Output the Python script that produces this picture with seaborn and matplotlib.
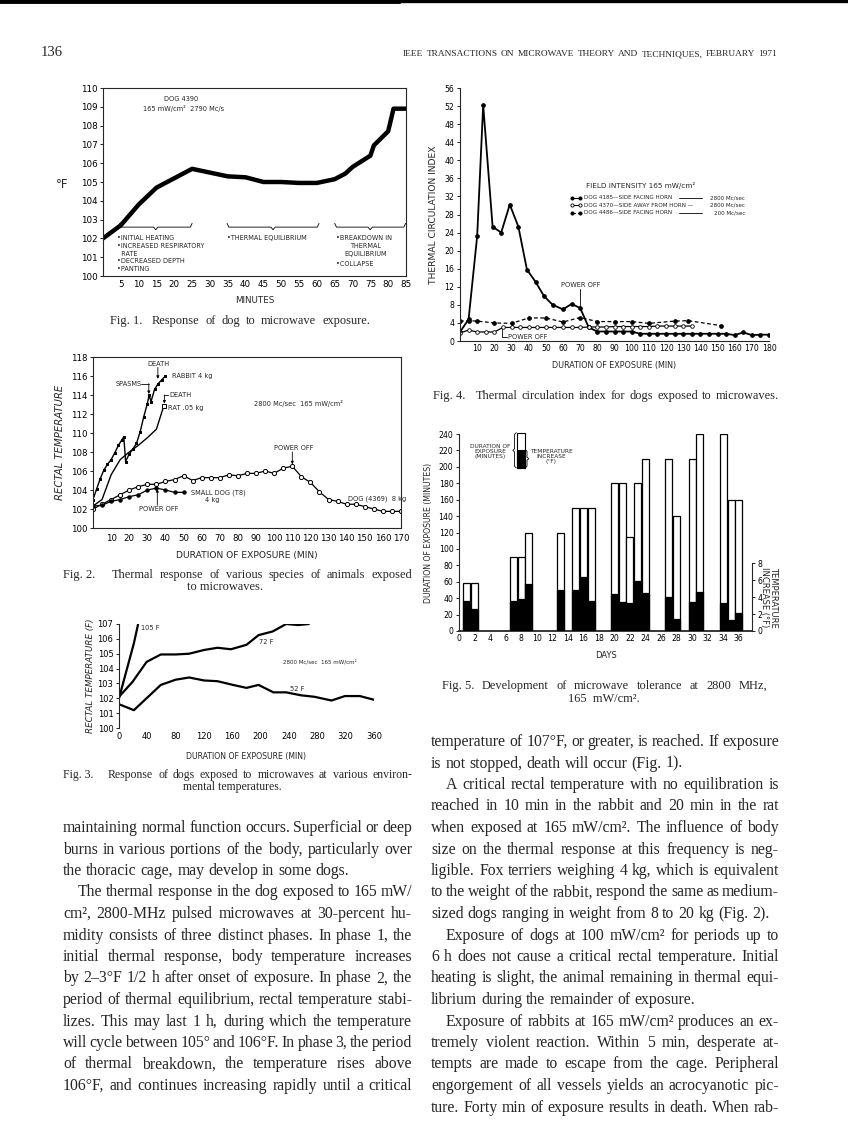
import matplotlib
matplotlib.use('Agg')
import matplotlib.pyplot as plt
from matplotlib.lines import Line2D
from matplotlib.patches import Rectangle
import seaborn as sns

# ---------------- data ----------------
# Fig. 1  dog 4390, 165 mW/cm2
f1_min = [0, 5, 10, 15, 20, 25, 30, 35, 40, 45, 50, 55, 60, 65, 68, 70, 75, 76, 80, 81.5, 85]
f1_temp = [102.0, 102.7, 103.8, 104.7, 105.2, 105.7, 105.5, 105.3, 105.25, 105.0, 105.0, 104.95,
           104.95, 105.15, 105.45, 105.8, 106.4, 106.95, 107.7, 108.9, 108.9]

# Fig. 2  species
rabbit_min = [0, 2, 4, 6, 8, 10, 12, 14, 16, 17, 18, 20, 22, 24, 26, 28, 30, 31, 32, 34, 36, 38, 40]
rabbit_temp = [103.0, 104.1, 105.2, 106.1, 106.7, 107.2, 107.9, 108.7, 109.3, 109.6, 107.0, 107.8,
               108.3, 108.9, 110.1, 111.7, 113.1, 114.0, 113.3, 114.6, 115.2, 115.6, 116.0]
rat_min = [0, 5, 10, 15, 20, 25, 30, 35, 39]
rat_temp = [102.3, 103.0, 105.6, 107.2, 108.0, 108.7, 109.5, 110.4, 112.8]
dog8_min = list(range(0, 171, 5))
dog8_temp = [102.0, 102.5, 103.0, 103.5, 104.0, 104.35, 104.6, 104.6, 104.9, 105.1, 105.5, 105.0,
             105.3, 105.3, 105.3, 105.6, 105.5, 105.75, 105.75, 106.0, 105.75, 106.3, 106.5, 105.4,
             104.8, 103.8, 103.0, 102.8, 102.5, 102.5, 102.25, 102.0, 101.75, 101.75, 101.75]
dog4_min = list(range(0, 51, 5))
dog4_temp = [102.3, 102.4, 102.8, 103.0, 103.3, 103.5, 104.0, 104.2, 104.0, 103.75, 103.75]

# Fig. 3  environmental temperatures
t105_min = [0, 21, 27]
t105_temp = [102.0, 105.7, 107.0]
t72_min = [0, 19, 39, 59, 80, 99, 120, 139, 158, 180, 197, 217, 236, 253, 268]
t72_temp = [102.1, 103.1, 104.45, 104.95, 104.95, 105.0, 105.25, 105.4, 105.3, 105.6, 106.25,
            106.5, 107.0, 106.93, 107.0]
t52_min = [0, 21, 40, 59, 80, 99, 120, 139, 161, 180, 197, 218, 236, 257, 276, 300, 319, 340, 360]
t52_temp = [101.6, 101.2, 102.05, 102.9, 103.25, 103.4, 103.2, 103.15, 102.9, 102.7, 102.9, 102.4,
            102.4, 102.2, 102.1, 101.85, 102.15, 102.15, 101.9]

# Fig. 4  thermal circulation index
d4185_min = [0, 5, 10, 13.5, 19, 24, 29, 34, 39, 44, 49, 54, 60, 65, 70, 75, 80, 85, 90, 95, 100,
             105, 110, 115, 120, 125, 130, 135, 140, 145, 150, 155, 160, 165, 170, 175, 180]
d4185_tci = [2.0, 4.8, 23.2, 52.2, 25.3, 24.0, 30.2, 25.3, 15.8, 13.1, 9.9, 8.0, 7.0, 8.2, 7.3, 3.0,
             2.1, 2.1, 2.1, 2.1, 2.1, 1.6, 1.6, 1.6, 1.6, 1.6, 1.6, 1.6, 1.6, 1.6, 1.6, 1.6, 1.3,
             1.9, 1.3, 1.4, 1.4]
d4370_min = list(range(0, 136, 5))
d4370_tci = [1.8, 2.4, 2.0, 2.0, 2.0, 3.0, 3.0, 3.0, 3.0, 3.0, 3.0, 3.0, 3.0, 3.0, 3.0, 3.1, 3.1,
             3.1, 3.2, 3.2, 3.2, 3.2, 3.2, 3.3, 3.3, 3.3, 3.3, 3.3]
d4486_min = [0, 5, 10, 20, 30, 40, 50, 60, 70, 80, 90, 100, 110, 125, 133, 152]
d4486_tci = [4.4, 4.5, 4.4, 4.0, 3.9, 5.1, 5.1, 4.2, 5.2, 4.3, 4.3, 4.3, 3.9, 4.4, 4.5, 3.4]

# Fig. 5  tolerance
days = [1, 2, 7, 8, 9, 13, 15, 16, 17, 20, 21, 22, 23, 24, 27, 28, 30, 31, 34, 35, 36]
exposure = [59, 59, 90, 90, 120, 120, 150, 150, 150, 180, 180, 115, 180, 210, 210, 140, 210, 240,
            240, 160, 160]
temp_rise = [3.55, 2.6, 3.55, 3.8, 5.5, 4.9, 4.9, 6.35, 3.6, 4.4, 3.4, 3.3, 5.9, 4.45, 4.05, 1.4,
             3.45, 4.65, 3.35, 1.3, 2.1]

# ---------------- page text ----------------
header_right = 'IEEE TRANSACTIONS ON MICROWAVE THEORY AND TECHNIQUES, FEBRUARY 1971'
left_lines = [
    'maintaining normal function occurs. Superficial or deep',
    'burns in various portions of the body, particularly over',
    'the thoracic cage, may develop in some dogs.',
    'The thermal response in the dog exposed to 165 mW/',
    'cm², 2800-MHz pulsed microwaves at 30-percent hu-',
    'midity consists of three distinct phases. In phase 1, the',
    'initial thermal response, body temperature increases',
    'by 2–3°F 1/2 h after onset of exposure. In phase 2, the',
    'period of thermal equilibrium, rectal temperature stabi-',
    'lizes. This may last 1 h, during which the temperature',
    'will cycle between 105° and 106°F. In phase 3, the period',
    'of thermal breakdown, the temperature rises above',
    '106°F, and continues increasing rapidly until a critical',
]
left_indent = {3}
left_ragged = {2}
right_lines = [
    'temperature of 107°F, or greater, is reached. If exposure',
    'is not stopped, death will occur (Fig. 1).',
    'A critical rectal temperature with no equilibration is',
    'reached in 10 min in the rabbit and 20 min in the rat',
    'when exposed at 165 mW/cm². The influence of body',
    'size on the thermal response at this frequency is neg-',
    'ligible. Fox terriers weighing 4 kg, which is equivalent',
    'to the weight of the rabbit, respond the same as medium-',
    'sized dogs ranging in weight from 8 to 20 kg (Fig. 2).',
    'Exposure of dogs at 100 mW/cm² for periods up to',
    '6 h does not cause a critical rectal temperature. Initial',
    'heating is slight, the animal remaining in thermal equi-',
    'librium during the remainder of exposure.',
    'Exposure of rabbits at 165 mW/cm² produces an ex-',
    'tremely violent reaction. Within 5 min, desperate at-',
    'tempts are made to escape from the cage. Peripheral',
    'engorgement of all vessels yields an acrocyanotic pic-',
    'ture. Forty min of exposure results in death. When rab-',
]
right_indent = {2, 9, 13}
right_ragged = {1, 8, 12}

# ---------------- page setup ----------------
sns.set_style('ticks')
plt.rcParams['font.family'] = ['DejaVu Sans']
plt.rcParams['axes.linewidth'] = 0.8

W, H = 848, 1142
fig = plt.figure(figsize=(W / 100, H / 100), dpi=100)
fig.patch.set_facecolor('white')
rend = fig.canvas.get_renderer()
SERIF = ['Liberation Serif', 'DejaVu Serif']
LEFT_COL = (63, 412)
RIGHT_COL = (431, 779)


def box(l, t, r, b):
    return [l / W, 1 - b / H, (r - l) / W, (b - t) / H]


def put(x, y, s, **kw):
    return fig.text(x / W, 1 - y / H, s, **kw)


def width_of(s, size):
    t = fig.text(0, 0, s, fontsize=size, family=SERIF)
    w = t.get_window_extent(rend).width
    t.remove()
    return w


def fit_size(lines, avails, gap_em, size0=10.0):
    best = 99.0
    for line, avail in zip(lines, avails):
        words = line.split()
        need = sum(width_of(w, size0) for w in words) + (len(words) - 1) * gap_em * size0 * 100 / 72
        best = min(best, avail / need)
    return size0 * best


def words_at(words, x0, x1, y, size, justify=True):
    arts, widths = [], []
    for w in words:
        t = put(x0, y, w, fontsize=size, family=SERIF, va='baseline', ha='left')
        arts.append(t)
        widths.append(t.get_window_extent(rend).width)
    gap = size * 100 / 72 * 0.25
    if justify and len(words) > 1:
        gap = (x1 - x0 - sum(widths)) / (len(words) - 1)
    x = x0
    for t, wd in zip(arts, widths):
        t.set_x(x / W)
        x += wd + gap


def column(lines, indent, ragged, x0, x1, y0, step, size):
    for i, line in enumerate(lines):
        left = x0 + (15 if i in indent else 0)
        words_at(line.split(), left, x1, y0 + i * step + 4, size, justify=i not in ragged)


def caption(tag, line1, x_tag, x_rest, x_end, y, size, justify, line2=None, c2=None, dy=12.5):
    t = put(x_tag, y + 4, tag, fontsize=size, family=SERIF, va='baseline')
    tag_end = x_tag + t.get_window_extent(rend).width
    start = max(x_rest, tag_end + size * 100 / 72 * 0.6)
    words_at(line1.split(), start, x_end, y + 4, size, justify=justify)
    if line2:
        put(c2, y + dy + 4, line2, fontsize=size, family=SERIF, va='baseline', ha='center')


def style_ticks(ax, size):
    ax.tick_params(labelsize=size, length=2.5, width=0.6, pad=1.5, colors='black')
    ax.set_xlabel('')
    ax.set_ylabel('')


# top edge of scanned page
fig.add_artist(Line2D([0, 1], [1 - 1.2 / H] * 2, color='black', lw=2.4))
fig.add_artist(Line2D([0, 0.47], [1 - 1.2 / H] * 2, color='black', lw=3.5))

put(41, 56, '136', fontsize=10.5, family=SERIF, va='baseline')
hsize = fit_size([header_right], [374], 0.3)
words_at(header_right.split(), 403, 777, 56, hsize, justify=True)

# ================= Fig. 1 =================
ax1 = fig.add_axes(box(103, 88, 406, 276))
sns.lineplot(x=f1_min, y=f1_temp, ax=ax1, color='black', lw=3.2, estimator=None, sort=False)
ax1.set_xlim(0, 85)
ax1.set_ylim(100, 110)
ax1.set_xticks(range(5, 86, 5))
ax1.set_yticks(range(100, 111))
style_ticks(ax1, 6.3)
ax1.tick_params(axis='x', length=0, pad=3)
ax1.set_xlabel('MINUTES', fontsize=6.3, labelpad=5)
put(62, 184, '°F', fontsize=8.5, ha='center', va='center')
ax1.text(22, 109.42, 'DOG 4390', fontsize=4.8, ha='center', va='center')
ax1.text(22.6, 108.93, '165 mW/cm²  2790 Mc/s', fontsize=4.8, ha='center', va='center')


def underbrace(ax, x0, x1, y, h, lw=0.6):
    xm = (x0 + x1) / 2
    xs = [x0, x0 + 0.5, xm - 0.6, xm, xm + 0.6, x1 - 0.5, x1]
    ys = [y + h, y, y, y - h * 0.7, y, y, y + h]
    ax.plot(xs, ys, color='black', lw=lw, solid_joinstyle='round')


underbrace(ax1, 4.6, 25, 102.6, 0.2)
underbrace(ax1, 34.8, 60.6, 102.6, 0.2)
underbrace(ax1, 65, 84.9, 102.6, 0.2)
fs = 4.7
for yy, s in [(102.0, '•INITIAL HEATING'), (101.58, '•INCREASED RESPIRATORY'),
              (101.18, '  RATE'), (100.78, '•DECREASED DEPTH'), (100.39, '•PANTING')]:
    ax1.text(3.9, yy, s, fontsize=fs, va='center')
ax1.text(34.8, 102.0, '•THERMAL EQUILIBRIUM', fontsize=fs, va='center')
ax1.text(65.5, 102.0, '•BREAKDOWN IN', fontsize=fs, va='center')
ax1.text(73.6, 101.58, 'THERMAL', fontsize=fs, va='center', ha='center')
ax1.text(73.6, 101.18, 'EQUILIBRIUM', fontsize=fs, va='center', ha='center')
ax1.text(65.5, 100.62, '•COLLAPSE', fontsize=fs, va='center')

# ================= Fig. 2 =================
ax2 = fig.add_axes(box(93, 357, 401, 528))
sns.lineplot(x=rabbit_min, y=rabbit_temp, ax=ax2, color='black', lw=1.0, marker='s', ms=1.6,
             mec='black', estimator=None, sort=False)
sns.lineplot(x=rat_min, y=rat_temp, ax=ax2, color='black', lw=1.0, marker='s', ms=2.2,
             markevery=[len(rat_min) - 1], mfc='white', mec='black', estimator=None, sort=False)
sns.lineplot(x=dog8_min, y=dog8_temp, ax=ax2, color='black', lw=0.9, marker='o', ms=3,
             mfc='white', mec='black', mew=0.7, estimator=None, sort=False)
sns.lineplot(x=dog4_min, y=dog4_temp, ax=ax2, color='black', lw=0.9, marker='o', ms=2.4,
             mec='black', estimator=None, sort=False)
ax2.set_xlim(0, 170)
ax2.set_ylim(100, 118)
ax2.set_xticks(range(10, 171, 10))
ax2.set_yticks(range(100, 119, 2))
style_ticks(ax2, 6.2)
ax2.tick_params(axis='x', length=0, pad=4)
ax2.set_xlabel('DURATION OF EXPOSURE (MIN)', fontsize=6.6, labelpad=6)
ax2.set_ylabel('RECTAL TEMPERATURE', fontsize=7.3, style='italic', labelpad=4)

fs = 4.8
arrow = dict(arrowstyle='-|>', lw=0.6, color='black', mutation_scale=4, shrinkA=0, shrinkB=0)
ax2.text(36, 117.3, 'DEATH', fontsize=fs, ha='center', va='center')
ax2.annotate('', xy=(35.8, 115.7), xytext=(35.8, 116.9), arrowprops=arrow)
ax2.text(43.5, 116.0, 'RABBIT 4 kg', fontsize=fs, va='center')
ax2.text(12.3, 115.2, 'SPASMS', fontsize=fs, va='center')
ax2.plot([26.5, 30.8], [115.2, 115.2], color='black', lw=0.6)
ax2.annotate('', xy=(30.8, 114.1), xytext=(30.8, 115.2), arrowprops=arrow)
ax2.text(42, 114.0, 'DEATH', fontsize=fs, va='center')
ax2.plot([39.4, 41.6], [114.0, 114.0], color='black', lw=0.6)
ax2.annotate('', xy=(39.4, 113.1), xytext=(39.4, 114.0), arrowprops=arrow)
ax2.text(41.2, 112.6, 'RAT .05 kg', fontsize=fs, va='center')
ax2.text(88.8, 113.15, '2800 Mc/sec  165 mW/cm²', fontsize=fs, va='center')
ax2.text(111, 108.4, 'POWER OFF', fontsize=fs, ha='center', va='center')
ax2.annotate('', xy=(110, 106.7), xytext=(110, 108.0), arrowprops=arrow)
ax2.text(54, 103.7, 'SMALL DOG (T8)', fontsize=fs, va='center')
ax2.text(66, 102.95, '4 kg', fontsize=fs, ha='center', va='center')
ax2.text(36.5, 102.0, 'POWER OFF', fontsize=fs, ha='center', va='center')
ax2.annotate('', xy=(35.5, 104.1), xytext=(35.5, 102.4), arrowprops=arrow)
ax2.text(141, 103.05, 'DOG (4369)  8 kg', fontsize=fs, va='center')

# ================= Fig. 3 =================
ax3 = fig.add_axes(box(119, 624, 374, 728))
for xs, ys in [(t105_min, t105_temp), (t72_min, t72_temp), (t52_min, t52_temp)]:
    sns.lineplot(x=xs, y=ys, ax=ax3, color='black', lw=1.6, estimator=None, sort=False)
ax3.set_xlim(0, 360)
ax3.set_ylim(100, 107)
ax3.set_xticks(range(0, 361, 40))
ax3.set_yticks(range(100, 108))
style_ticks(ax3, 6)
ax3.tick_params(axis='x', length=0, pad=3)
for s in ['top', 'right', 'bottom']:
    ax3.spines[s].set_visible(False)
ax3.set_xlabel('DURATION OF EXPOSURE (MIN)', fontsize=5.6, labelpad=8)
ax3.set_ylabel('RECTAL TEMPERATURE (F)', fontsize=6.3, style='italic', labelpad=1.5)
ax3.text(30.5, 106.7, '105 F', fontsize=4.8, va='center')
ax3.text(198, 105.8, '72 F', fontsize=4.8, va='center')
ax3.text(241, 102.65, '52 F', fontsize=4.8, va='center')
ax3.text(231, 104.45, '2800 Mc/sec  165 mW/cm²', fontsize=4.0, va='center')

# ================= Fig. 4 =================
ax4 = fig.add_axes(box(460, 88, 769, 341))
sns.lineplot(x=d4185_min, y=d4185_tci, ax=ax4, color='black', lw=1.3, marker='o', ms=2.6,
             mec='black', estimator=None, sort=False)
sns.lineplot(x=d4370_min, y=d4370_tci, ax=ax4, color='black', lw=0.9, marker='o', ms=2.6,
             mfc='white', mec='black', mew=0.6, estimator=None, sort=False)
sns.lineplot(x=d4486_min, y=d4486_tci, ax=ax4, color='black', lw=0.9, marker='o', ms=2.6,
             mec='black', linestyle=(0, (3, 2)), estimator=None, sort=False)
ax4.set_xlim(0, 180)
ax4.set_ylim(0, 56)
ax4.set_xticks(range(10, 181, 10))
ax4.set_yticks(range(0, 57, 4))
style_ticks(ax4, 5.6)
ax4.tick_params(axis='x', length=0, pad=2)
sns.despine(ax=ax4)
ax4.set_xlabel('DURATION OF EXPOSURE (MIN)', fontsize=5.8, labelpad=6)
ax4.set_ylabel('THERMAL CIRCULATION INDEX', fontsize=6.6, labelpad=5)

fs = 4.1
ax4.text(73.4, 34.5, 'FIELD INTENSITY 165 mW/cm²', fontsize=5.2, va='center')
legend_rows = [
    (31.7, '-', 'black', 'DOG 4185—SIDE FACING HORN', '2800 Mc/sec', True),
    (30.1, '-', 'white', 'DOG 4370—SIDE AWAY FROM HORN —', '2800 Mc/sec', False),
    (28.4, (0, (3, 2)), 'black', 'DOG 4486—SIDE FACING HORN', '200 Mc/sec', True),
]
for yy, ls, fc, left_txt, right_txt, dash in legend_rows:
    ax4.plot([65.2, 70.1], [yy, yy], color='black', ls=ls, lw=0.8, marker='o', ms=2.3,
             mfc=fc, mec='black', mew=0.6)
    ax4.text(72, yy, left_txt, fontsize=fs, va='center')
    if dash:
        ax4.plot([127.5, 141], [yy, yy], color='black', lw=0.6)
    ax4.text(166, yy, right_txt, fontsize=fs, va='center', ha='right')
ax4.text(70.2, 12.4, 'POWER OFF', fontsize=4.8, ha='center', va='center')
ax4.plot([69.7, 69.7], [11.6, 7.3], color='black', lw=0.6)
ax4.text(28, 0.8, 'POWER OFF', fontsize=4.8, va='center')
ax4.plot([24.6, 24.6, 27.2], [2.6, 0.8, 0.8], color='black', lw=0.6)

# ================= Fig. 5 =================
MIN_PER_F = 10.3
ax5 = fig.add_axes(box(459, 434, 752, 631))
sns.barplot(x=days, y=exposure, native_scale=True, width=0.9, color='white', saturation=1,
            edgecolor='black', linewidth=0.9, errorbar=None, ax=ax5)
ax5b = ax5.twinx()
sns.barplot(x=days, y=temp_rise, native_scale=True, width=0.9, color='black', saturation=1,
            edgecolor='black', linewidth=0.9, errorbar=None, ax=ax5b)
ax5.set_xlim(0, 37.7)
ax5.set_ylim(0, 240)
ax5b.set_ylim(0, 240 / MIN_PER_F)
ax5.set_xticks(range(0, 37, 2))
ax5.set_yticks(range(0, 241, 20))
ax5b.set_yticks(range(0, 9, 2))
style_ticks(ax5, 5.6)
style_ticks(ax5b, 5.6)
ax5.tick_params(axis='x', length=0, pad=2)
ax5.spines['top'].set_visible(False)
ax5.spines['right'].set_visible(False)
ax5.spines['bottom'].set_linewidth(1.3)
for s in ['top', 'left', 'bottom']:
    ax5b.spines[s].set_visible(False)
ax5b.spines['right'].set_bounds(0, 8)
ax5.set_xlabel('DAYS', fontsize=6, labelpad=6)
ax5.set_ylabel('DURATION OF EXPOSURE (MINUTES)', fontsize=5.6, labelpad=4)
ax5b.set_ylabel('TEMPERATURE\nINCREASE (°F)', fontsize=6, rotation=-90, labelpad=14,
                linespacing=1.0)
ax5b.yaxis.set_label_coords(1.09, 0.17)

# key drawn into the plot
ax5.add_patch(Rectangle((7.4, 198.7), 1.1, 42.9, fc='white', ec='black', lw=0.8, clip_on=False))
ax5.add_patch(Rectangle((7.4, 198.7), 1.1, 22.3, fc='black', ec='black', lw=0.8, clip_on=False))


def vbrace(ax, y0, y1, x, h, lw=0.6):
    ym = (y0 + y1) / 2
    ys = [y0, y0 + 2, ym - 2, ym, ym + 2, y1 - 2, y1]
    xs = [x - h, x, x, x + h, x, x, x - h]
    ax.plot(xs, ys, color='black', lw=lw, clip_on=False)


vbrace(ax5, 198.7, 241.6, 7.15, -0.22)
vbrace(ax5, 198.7, 221.0, 8.75, 0.22)
ax5.text(6.6, 219, 'DURATION OF\nEXPOSURE\n(MINUTES)', fontsize=4.2, ha='right', va='center',
         multialignment='center', linespacing=1.0)
ax5.text(9.15, 213, 'TEMPERATURE\nINCREASE\n(°F)', fontsize=4.2, ha='left', va='center',
         multialignment='center', linespacing=1.0)

# ================= captions =================
cap_lines = ['Thermal response of various species of animals exposed',
             'Response of dogs exposed to microwaves at various environ-',
             'Development of microwave tolerance at 2800 MHz,']
csize = min(fit_size(cap_lines, [300, 304, 290], 0.25), 9.5)
caption('Fig. 1.', 'Response of dog to microwave exposure.', 110, 152, 370, 320, csize, True)
caption('Fig. 2.', cap_lines[0], 63, 112, 412, 574, csize, True, 'to microwaves.', 225)
caption('Fig. 3.', cap_lines[1], 63, 108, 412, 774, csize * 0.95, True,
        'mental temperatures.', 232, dy=12)
caption('Fig. 4.', 'Thermal circulation index for dogs exposed to microwaves.', 433, 476, 779, 395,
        csize, True)
caption('Fig. 5.', cap_lines[2], 442, 472, 767, 685, csize, True, '165  mW/cm².', 604)

# ================= body text =================
lj = [i for i in range(len(left_lines)) if i not in left_ragged]
rj = [i for i in range(len(right_lines)) if i not in right_ragged]
lw_col = LEFT_COL[1] - LEFT_COL[0]
rw_col = RIGHT_COL[1] - RIGHT_COL[0]
body = fit_size([left_lines[i] for i in lj] + [right_lines[i] for i in rj],
                [lw_col - (15 if i in left_indent else 0) for i in lj]
                + [rw_col - (15 if i in right_indent else 0) for i in rj], 0.16)
body = min(body, 11.5)
column(left_lines, left_indent, left_ragged, LEFT_COL[0], LEFT_COL[1], 828, 21.5, body)
column(right_lines, right_indent, right_ragged, RIGHT_COL[0], RIGHT_COL[1], 742, 21.5, body)

fig.savefig('out.png', dpi=100, facecolor='white')
